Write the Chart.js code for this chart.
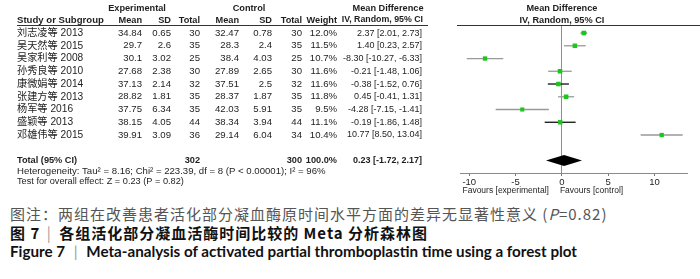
<!DOCTYPE html>
<html>
<head>
<meta charset="utf-8">
<script src="https://cdn.jsdelivr.net/npm/chart.js@4.4.1/dist/chart.umd.min.js"></script>
<style>
  html, body { margin: 0; padding: 0; background: #fff; }
  body { width: 700px; height: 279px; position: relative; overflow: hidden; }
  #wrap { position: absolute; left: 0; top: 0; width: 700px; height: 200px; }
  .cap { position: absolute; left: 10px; white-space: nowrap; line-height: 18px; }
  #note { top: 203px; font: 15px "Noto Sans CJK SC", sans-serif; color: #555; letter-spacing: 1px; }
  #title-cn { top: 222px; font: bold 15px "Noto Sans CJK SC", sans-serif; color: #111; letter-spacing: 1px; }
  #title-en { top: 242px; font: bold 15.2px Lato, "Noto Sans", sans-serif; color: #111; }
  .bar { color: #999; font-weight: normal; margin: 0 5px; }
  #title-cn .bar { margin: 0 3px 0 2px; }
</style>
</head>
<body>
<div id="wrap"><canvas id="forest"></canvas></div>
<div class="cap" id="note">图注：两组在改善患者活化部分凝血酶原时间水平方面的差异无显著性意义 (<i>P</i>=0.82)</div>
<div class="cap" id="title-cn">图 7 <span class="bar">|</span> 各组活化部分凝血活酶时间比较的 Meta 分析森林图</div>
<div class="cap" id="title-en">Figure 7 <span class="bar">|</span> Meta-analysis of activated partial thromboplastin time using a forest plot</div>

<script>
// study data
const studies = ['刘志凌等 2013', '吴天然等 2015', '吴家利等 2008', '孙秀良等 2010', '康微娟等 2014',
  '张建方等 2013', '杨军等 2016', '盛颖等 2013', '邓雄伟等 2015']
const expMean = [34.84, 29.7, 30.1, 27.68, 37.13, 28.82, 37.75, 38.15, 39.91]
const expSD = [0.65, 2.6, 3.02, 2.38, 2.14, 1.81, 6.34, 4.05, 3.09]
const expTotal = [30, 35, 25, 30, 32, 35, 35, 44, 36]
const ctrlMean = [32.47, 28.3, 38.4, 27.89, 37.51, 28.37, 42.03, 38.34, 29.14]
const ctrlSD = [0.78, 2.4, 4.03, 2.65, 2.5, 1.87, 5.91, 3.94, 6.04]
const ctrlTotal = [30, 35, 25, 30, 32, 35, 35, 44, 34]
const weights = [12.0, 11.5, 10.7, 11.6, 11.6, 11.8, 9.5, 11.1, 10.4]
const meanDiff = [2.37, 1.40, -8.30, -0.21, -0.38, 0.45, -4.28, -0.19, 10.77]
const ciLow = [2.01, 0.23, -10.27, -1.48, -1.52, -0.41, -7.15, -1.86, 8.50]
const ciHigh = [2.73, 2.57, -6.33, 1.06, 0.76, 1.31, -1.41, 1.48, 13.04]

const totalExp = 302
const totalCtrl = 300
const totalWeight = 100.0
const totalMD = 0.23
const totalCI = [-1.72, 2.17]
const heterogeneity = 'Heterogeneity: Tau² = 8.16; Chi² = 223.39, df = 8 (P < 0.00001); I² = 96%'
const overallTest = 'Test for overall effect: Z = 0.23 (P = 0.82)'

const xTicks = [-10, -5, 0, 5, 10]

// styles
const FAMILY = '"Liberation Sans", Arial, "Noto Sans CJK SC", sans-serif'
const TEXT = '#1e1e1e'
const GREEN = '#1cc71c'
const ciColors = ['#777', '#999', '#999', '#999', '#111', '#999', '#999', '#111', '#999']
const TOTAL_ROW = 10

// right edges of table columns
const cols = { expMean: 142, expSD: 171, expTotal: 200, ctrlMean: 239, ctrlSD: 272, ctrlTotal: 302, weight: 337, ci: 422 }

const fmtCI = (m, l, h) => m.toFixed(2) + ' [' + l.toFixed(2) + ', ' + h.toFixed(2) + ']'

function txt(ctx, s, x, y, align, bold, size) {
  ctx.font = (bold ? 'bold ' : '') + (size || (bold ? 9.2 : 9.6)) + 'px ' + FAMILY
  ctx.textAlign = align
  ctx.textBaseline = 'middle'
  ctx.fillText(s, x, y)
}

const tablePlugin = {
  id: 'forestTable',
  afterDatasetsDraw(chart) {
    const {ctx, scales: {x, y}} = chart
    const yt = y.getPixelForValue(TOTAL_ROW)
    // pooled estimate diamond
    ctx.save()
    ctx.fillStyle = '#000'
    ctx.beginPath()
    ctx.moveTo(x.getPixelForValue(totalCI[0]), yt)
    ctx.lineTo(x.getPixelForValue(totalMD), yt - 5.5)
    ctx.lineTo(x.getPixelForValue(totalCI[1]), yt)
    ctx.lineTo(x.getPixelForValue(totalMD), yt + 5.5)
    ctx.closePath()
    ctx.fill()
    ctx.restore()
  },
  afterDraw(chart) {
    const {ctx, scales: {x, y}} = chart
    const x0 = x.getPixelForValue(0)
    ctx.save()
    ctx.fillStyle = TEXT

    // headers
    txt(ctx, 'Experimental', 137, 8, 'center', true)
    txt(ctx, 'Control', 249, 8, 'center', true)
    txt(ctx, 'Mean Difference', 388, 8, 'center', true)
    txt(ctx, 'Mean Difference', x0, 8, 'center', true)
    txt(ctx, 'Study or Subgroup', 17, 20, 'left', true, 9.6)
    txt(ctx, 'Mean', cols.expMean, 20, 'right', true)
    txt(ctx, 'SD', cols.expSD, 20, 'right', true)
    txt(ctx, 'Total', cols.expTotal, 20, 'right', true)
    txt(ctx, 'Mean', cols.ctrlMean, 20, 'right', true)
    txt(ctx, 'SD', cols.ctrlSD, 20, 'right', true)
    txt(ctx, 'Total', cols.ctrlTotal, 20, 'right', true)
    txt(ctx, 'Weight', cols.weight, 20, 'right', true)
    txt(ctx, 'IV, Random, 95% CI', cols.ci + 1, 20, 'right', true, 8.8)
    txt(ctx, 'IV, Random, 95% CI', x0, 20, 'center', true)

    ctx.strokeStyle = '#333'
    ctx.lineWidth = 1
    ctx.beginPath()
    ctx.moveTo(17, 25.5); ctx.lineTo(428, 25.5)
    ctx.moveTo(457, 25.5); ctx.lineTo(700, 25.5)
    ctx.stroke()

    // study rows
    studies.forEach((s, i) => {
      const yy = y.getPixelForValue(i)
      txt(ctx, s, 17, yy, 'left', false, 10.2)
      txt(ctx, String(expMean[i]), cols.expMean, yy, 'right')
      txt(ctx, String(expSD[i]), cols.expSD, yy, 'right')
      txt(ctx, String(expTotal[i]), cols.expTotal, yy, 'right')
      txt(ctx, String(ctrlMean[i]), cols.ctrlMean, yy, 'right')
      txt(ctx, String(ctrlSD[i]), cols.ctrlSD, yy, 'right')
      txt(ctx, String(ctrlTotal[i]), cols.ctrlTotal, yy, 'right')
      txt(ctx, weights[i].toFixed(1) + '%', cols.weight, yy, 'right')
      txt(ctx, fmtCI(meanDiff[i], ciLow[i], ciHigh[i]), cols.ci, yy, 'right', false, 9)
    })

    // total + notes
    const yt = y.getPixelForValue(TOTAL_ROW)
    txt(ctx, 'Total (95% CI)', 17, yt, 'left', true)
    txt(ctx, String(totalExp), cols.expTotal, yt, 'right', true)
    txt(ctx, String(totalCtrl), cols.ctrlTotal, yt, 'right', true)
    txt(ctx, totalWeight.toFixed(1) + '%', cols.weight, yt, 'right', true)
    txt(ctx, fmtCI(totalMD, totalCI[0], totalCI[1]), cols.ci, yt, 'right', true, 9)
    txt(ctx, heterogeneity, 17, yt + 10.5, 'left')
    txt(ctx, overallTest, 17, yt + 21, 'left', false, 9.2)

    // favours labels under the axis
    ctx.font = '8.5px "Liberation Sans", Arial, sans-serif'
    ctx.textBaseline = 'middle'
    ctx.textAlign = 'right'
    ctx.fillText('Favours [experimental]', x0 - 13, 191)
    ctx.textAlign = 'left'
    ctx.fillText('Favours [control]', x0 - 2, 191)
    ctx.restore()
  }
}

new Chart(document.getElementById('forest'), {
  type: 'bar',
  data: {
    datasets: [{
      type: 'scatter',
      data: studies.map((s, i) => ({ x: meanDiff[i], y: i })),
      pointStyle: 'rect',
      pointRadius: ctx => 3.2 * Math.sqrt(weights[ctx.dataIndex] / 11.5),
      backgroundColor: GREEN,
      borderWidth: 0,
      order: 1
    }, {
      type: 'bar',
      indexAxis: 'y',
      data: studies.map((s, i) => ({ x: [ciLow[i], ciHigh[i]], y: i })),
      backgroundColor: ciColors,
      borderWidth: 0,
      barThickness: 1.3,
      inflateAmount: 0,
      order: 2
    }]
  },
  options: {
    indexAxis: 'y',
    responsive: true,
    maintainAspectRatio: false,
    animation: false,
    events: [],
    layout: { padding: { left: 460, right: 13, top: 25, bottom: 0 } },
    scales: {
      x: {
        type: 'linear',
        min: -11,
        max: 13.5,
        offset: false,
        afterBuildTicks: scale => { scale.ticks = xTicks.map(v => ({ value: v })) },
        afterFit: scale => { scale.height = 27 },
        border: { display: true, color: '#8a8a8a', width: 1 },
        grid: {
          offset: false,
          drawOnChartArea: true,
          color: ctx => (ctx.tick && ctx.tick.value === 0 ? '#8f8f8f' : 'rgba(0,0,0,0)'),
          tickColor: '#777',
          tickLength: 3
        },
        ticks: {
          color: TEXT,
          padding: 1,
          maxRotation: 0,
          font: { family: '"Liberation Sans", Arial, sans-serif', size: 9.5 }
        }
      },
      y: {
        type: 'linear',
        display: false,
        reverse: true,
        offset: false,
        min: -0.63,
        max: 10.98
      }
    },
    plugins: {
      legend: { display: false },
      tooltip: { enabled: false }
    }
  },
  plugins: [tablePlugin]
})
</script>
</body>
</html>
